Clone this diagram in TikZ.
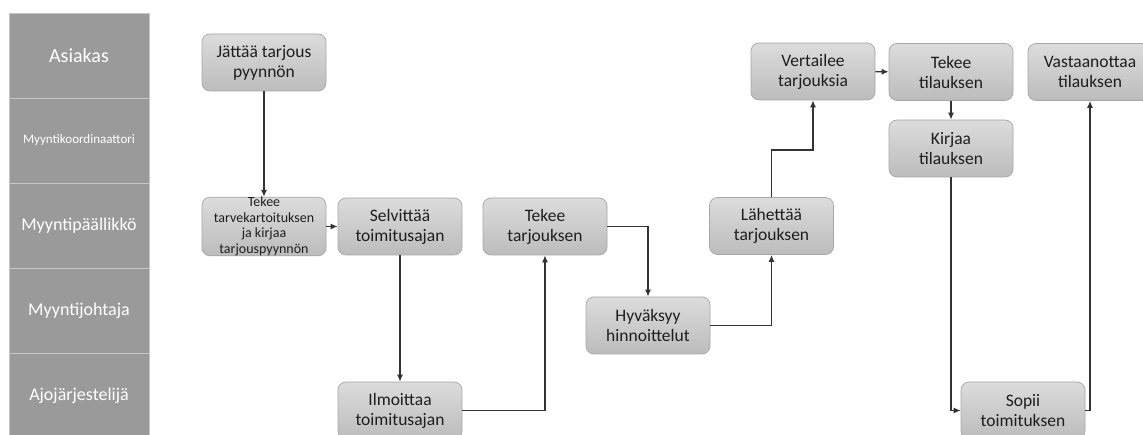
\documentclass[tikz,border=0pt]{standalone}
\usepackage{fontspec}
\setmainfont{Carlito}
\usepackage{tikz}
\usetikzlibrary{arrows.meta}
\definecolor{boxtop}{HTML}{DCDCDC}
\definecolor{boxbot}{HTML}{BCBCBC}
\definecolor{boxline}{HTML}{A6A6A6}
\definecolor{lanefill}{HTML}{9A9A9A}
\definecolor{laneline}{HTML}{C6C6C6}
\definecolor{txt}{HTML}{1E1E1E}
\definecolor{wire}{HTML}{333333}
\begin{document}
\begin{tikzpicture}[x=1pt,y=-1pt,
  lane/.style={rectangle,fill=lanefill,draw=laneline,line width=0.8pt,minimum width=140pt,minimum height=85pt,inner sep=0pt,text=white,font=\fontsize{18}{21}\selectfont},
  task/.style={rectangle,rounded corners=8pt,top color=boxtop,bottom color=boxbot,draw=boxline,line width=0.7pt,minimum width=124pt,minimum height=57pt,inner sep=0pt,align=center,text=txt,font=\fontsize{17.5}{20}\selectfont},
  arr/.style={draw=wire,line width=1.2pt,-{Latex[length=7pt,width=6pt]}}]
\clip (0,0) rectangle (1143,435);
\node[lane,font=\fontsize{20}{22}\selectfont] (asiakas) at (79,55.5) {Asiakas}; \node[lane,font=\fontsize{13}{15}\selectfont] (koord) at (79,140.5) {Myyntikoordinaattori};
\node[lane] (paallikko) at (79,225.5) {Myyntipäällikkö}; \node[lane] (johtaja) at (79,310.5) {Myyntijohtaja};
\node[lane] (ajojarj) at (79,395.5) {Ajojärjestelijä};
\node[task] (jattaa) at (264,62.5) {Jättää tarjous\\pyynnön};
\node[task,font=\fontsize{14}{15.5}\selectfont] (tarve) at (264,226.5) {Tekee\\tarvekartoituksen\\ja kirjaa\\tarjouspyynnön};
\node[task] (selvittaa) at (400,226.5) {Selvittää\\toimitusajan}; \node[task] (tekeetarj) at (545,226.5) {Tekee\\tarjouksen};
\node[task] (hyvaksyy) at (648,325.5) {Hyväksyy\\hinnoittelut}; \node[task] (ilmoittaa) at (400,410.5) {Ilmoittaa\\toimitusajan};
\node[task] (lahettaa) at (771.5,226) {Lähettää\\tarjouksen}; \node[task] (vertailee) at (813,71.5) {Vertailee\\tarjouksia};
\node[task] (tekeetil) at (951,72) {Tekee\\tilauksen}; \node[task] (vastaan) at (1090,72) {Vastaanottaa\\tilauksen};
\node[task] (kirjaa) at (951,148.5) {Kirjaa\\tilauksen}; \node[task] (sopii) at (1023,410.5) {Sopii\\toimituksen};
\coordinate (knee) at (771.5,150);
\draw[arr] (jattaa) -- (tarve); \draw[arr] (tarve) -- (selvittaa); \draw[arr] (selvittaa) -- (ilmoittaa);
\draw[arr] (ilmoittaa) -| (tekeetarj); \draw[arr] (tekeetarj) -| (hyvaksyy); \draw[arr] (hyvaksyy) -| (lahettaa);
\draw[arr] (lahettaa) -- (knee) -| (vertailee); \draw[arr] (vertailee) -- (tekeetil); \draw[arr] (tekeetil) -- (kirjaa);
\draw[arr] (kirjaa) |- (sopii); \draw[arr] (sopii) -| (vastaan);
\end{tikzpicture}
\end{document}
